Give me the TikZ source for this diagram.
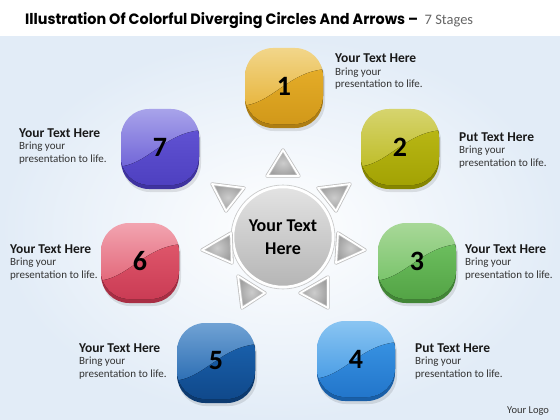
\documentclass[tikz,border=0pt]{standalone}
\usepackage{fontspec}
\setmainfont{Carlito}
\newfontfamily\titlefont{Poppins}
\usetikzlibrary{calc}
\definecolor{bgblue}{RGB}{226,236,247}
\definecolor{c1l}{RGB}{242,214,138}\definecolor{c1m}{RGB}{228,172,40}\definecolor{c1d}{RGB}{205,148,22}
\definecolor{c2l}{RGB}{214,212,110}\definecolor{c2m}{RGB}{184,182,20}\definecolor{c2d}{RGB}{158,158,0}
\definecolor{c3l}{RGB}{168,216,152}\definecolor{c3m}{RGB}{108,190,94}\definecolor{c3d}{RGB}{78,158,64}
\definecolor{c4l}{RGB}{138,197,242}\definecolor{c4m}{RGB}{55,145,225}\definecolor{c4d}{RGB}{30,112,198}
\definecolor{c5l}{RGB}{112,162,212}\definecolor{c5m}{RGB}{25,95,170}\definecolor{c5d}{RGB}{14,68,132}
\definecolor{c6l}{RGB}{242,164,176}\definecolor{c6m}{RGB}{222,86,106}\definecolor{c6d}{RGB}{198,54,80}
\definecolor{c7l}{RGB}{168,163,234}\definecolor{c7m}{RGB}{96,82,210}\definecolor{c7d}{RGB}{74,60,188}
\newcommand\stagelabel[1]{\vtop{\baselineskip=12.5pt\hbox{\fontsize{13.5}{12.5}\selectfont\bfseries\color{black!90}#1}\hbox{Bring your}\hbox{presentation to life.}}}
\tikzset{
  stagebox/.style n args={3}{rounded corners=28pt, minimum width=78pt, minimum height=76pt,
    inner sep=0pt, top color=#1, bottom color=#2, text=black,
    font=\fontsize{28}{30}\selectfont\bfseries,
    path picture={
      \coordinate (pc) at (path picture bounding box.center);
      \fill[top color=#2, bottom color=#3, sharp corners]
        ([shift={(-45pt,-20pt)}]pc) .. controls ([shift={(-12pt,-20pt)}]pc) and ([shift={(4pt,16pt)}]pc) ..
        ([shift={(45pt,17pt)}]pc) -- ([shift={(45pt,-50pt)}]pc) -- ([shift={(-45pt,-50pt)}]pc) -- cycle;
    }},
  lbl/.style={anchor=base west, inner sep=0pt, font=\fontsize{11}{12.5}\selectfont, text=black!80},
  tri/.style={draw=gray!50, line width=3.4pt, line join=round,
    preaction={inner color=gray!40, outer color=gray!75},
    postaction={draw=white, line width=1.8pt, line join=round}}
}
\begin{document}
\begin{tikzpicture}[x=1pt,y=-1pt]
\useasboundingbox (0,0) rectangle (560,420);
\fill[white] (0,0) rectangle (560,420);
\shade[inner color=white, outer color=bgblue] (0,37) rectangle (560,420);
% title
\node[anchor=base west, inner sep=0pt] (title) at (25,25)
  {\resizebox{393pt}{12pt}{\titlefont\bfseries Illustration Of Colorful Diverging Circles And Arrows –}};
\node[anchor=base west, inner sep=0pt, text=gray!80!black, font=\fontsize{14.5}{16}\selectfont]
  (sub) at ([xshift=6pt]title.base east) {7 Stages};
% boxes
\foreach \n/\x/\y/\cl/\cm/\cd in {1/284/86/c1l/c1m/c1d, 2/400/147/c2l/c2m/c2d, 3/417/261/c3l/c3m/c3d,
  4/356/359/c4l/c4m/c4d, 5/216/361/c5l/c5m/c5d, 6/140/261/c6l/c6m/c6d, 7/160/147/c7l/c7m/c7d}{
  \fill[black, opacity=0.10, rounded corners=28pt] (\x-38,\y-34) rectangle (\x+41,\y+45);
  \fill[\cd!85!black, rounded corners=28pt] (\x-39,\y-37) rectangle (\x+39,\y+42);
  \node[stagebox={\cl}{\cm}{\cd}] (b\n) at (\x,\y) {\n};
}
% centre
\node[circle, minimum size=100pt, inner sep=0pt, top color=gray!22, bottom color=gray!58,
  draw=white, line width=2.5pt, align=center, font=\fontsize{18}{23}\selectfont\bfseries] (c) at (283,237) {Your Text\\Here};
\draw[gray!45, line width=0.6pt] (c.center) circle[radius=52];
% triangles
\path[tri] (283,150) -- (267,176) -- (299,176) -- cycle;
\path[tri] (212,184) -- (244,188) -- (226,211) -- cycle;
\path[tri] (318,188) -- (350,184) -- (336,211) -- cycle;
\path[tri] (202,250) -- (231,233) -- (232,263) -- cycle;
\path[tri] (338,233) -- (365,250) -- (336,263) -- cycle;
\path[tri] (238,276) -- (265,293) -- (242,308) -- cycle;
\path[tri] (328,277) -- (300,293) -- (328,308) -- cycle;
% labels
\node[lbl] (l1) at (335,63) {\stagelabel{Your Text Here}};
\node[lbl] (l2) at (459,141) {\stagelabel{Put Text Here}};
\node[lbl] (l3) at (465,253) {\stagelabel{Your Text Here}};
\node[lbl] (l4) at (415,352) {\stagelabel{Put Text Here}};
\node[lbl] (l5) at (79,352) {\stagelabel{Your Text Here}};
\node[lbl] (l6) at (10,253) {\stagelabel{Your Text Here}};
\node[lbl] (l7) at (19,137) {\stagelabel{Your Text Here}};
\node[anchor=base west, inner sep=0pt, font=\fontsize{10.5}{12}\selectfont, text=black!80] (logo) at (507,413) {Your Logo};
\end{tikzpicture}
\end{document}
